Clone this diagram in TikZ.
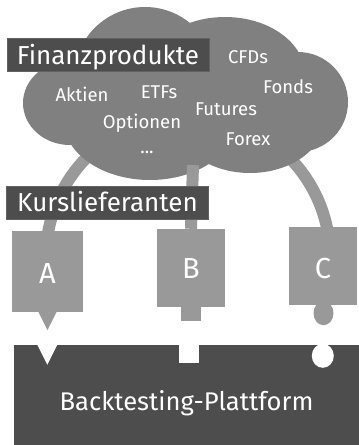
\documentclass[tikz,border=0pt]{standalone}
\usepackage{fontspec}
\setmainfont{Fira Sans}
\usetikzlibrary{calc}
\definecolor{cloudgray}{HTML}{808080}
\definecolor{srcgray}{HTML}{999999}
\definecolor{darkbox}{HTML}{4D4D4D}
\definecolor{darkedge}{HTML}{616161}
\begin{document}
\begin{tikzpicture}[x=1pt,y=-1pt,
  tag/.style={fill=darkbox, draw=darkedge, line width=0.8pt, text=white,
    font=\fontsize{26}{26}\selectfont, minimum width=202pt, inner sep=0pt},
  word/.style={text=white, font=\fontsize{18.5}{18.5}\selectfont, inner sep=0pt, anchor=base},
  srcbox/.style={fill=srcgray, text=white, font=\fontsize{29}{29}\selectfont, inner sep=0pt},
  conn/.style={draw=srcgray, line width=12pt},
  hole/.style={fill=white}]
\useasboundingbox (0,0) rectangle (359,445);

% connector arcs (behind the cloud)
\begin{scope}
  \clip (0,0) rectangle (359,232);
  \draw[conn] (188,257) circle (142pt);
\end{scope}

% cloud
\begin{scope}[cloudgray]
  \fill (70,103) ellipse (47pt and 42pt);
  \fill (145,78) circle (71pt);
  \fill (225,75) ellipse (80pt and 58pt);
  \fill (298,102) circle (50pt);
  \fill (150,120) ellipse (86.5pt and 60pt);
  \fill (250,118) ellipse (75pt and 55pt);
\end{scope}
\coordinate (btop) at (193,165);

% source boxes
\node[srcbox, minimum width=71pt, text height=52pt, text depth=29pt] (A) at (47.5,271.5) {A};
\node[srcbox, minimum width=68pt, text height=49pt, text depth=29pt] (B) at (191,268) {B};
\node[srcbox, minimum width=68pt, text height=51pt, text depth=27pt] (C) at (323,266) {C};

% B connector
\draw[conn] (btop) -- (B.north);

% plugs
\fill[srcgray] ($(A.south)+(-9.5,-1)$) -- ($(A.south)+(9.5,-1)$) -- ($(A.south)+(0,18)$) -- cycle;
\fill[srcgray] ($(B.south)+(-10,-1)$) rectangle ($(B.south)+(10,14)$);
\fill[srcgray] ($(C.south)+(0.5,8)$) ellipse (10pt and 12pt);

% platform
\node[fill=darkbox, text=white, font=\fontsize{25.6}{25.6}\selectfont, inner sep=0pt,
  minimum width=345pt, text height=65pt, text depth=35pt] (plat) at (186.5,395) {Backtesting-Plattform};
\fill[hole] ($(plat.north west)+(23,-1)$) -- ($(plat.north west)+(44,-1)$) -- ($(plat.north west)+(33.5,20)$) -- cycle;
\fill[hole] ($(plat.north west)+(165,-1)$) rectangle ($(plat.north west)+(185,18)$);
\fill[hole] ($(plat.north west)+(309,11)$) ellipse (11pt and 12pt);

% labels
\node[tag, text height=26pt, text depth=7pt] (fin) at (108,54.5) {Finanzprodukte};
\node[tag, text height=25.7pt, text depth=7.3pt] (kurs) at (107.5,202.5) {Kurslieferanten};

% cloud words
\node[word] (cfd) at (248,63.3) {CFDs};
\node[word] (fonds) at (288,93.3) {Fonds};
\node[word] (akt) at (82,101.7) {Aktien};
\node[word] (etf) at (159,98.3) {ETFs};
\node[word] (fut) at (226,115) {Futures};
\node[word] (opt) at (142,128) {Optionen};
\node[word] (forex) at (248,145) {Forex};
\node[word] (dots) at (147,153) {...};
\end{tikzpicture}
\end{document}
